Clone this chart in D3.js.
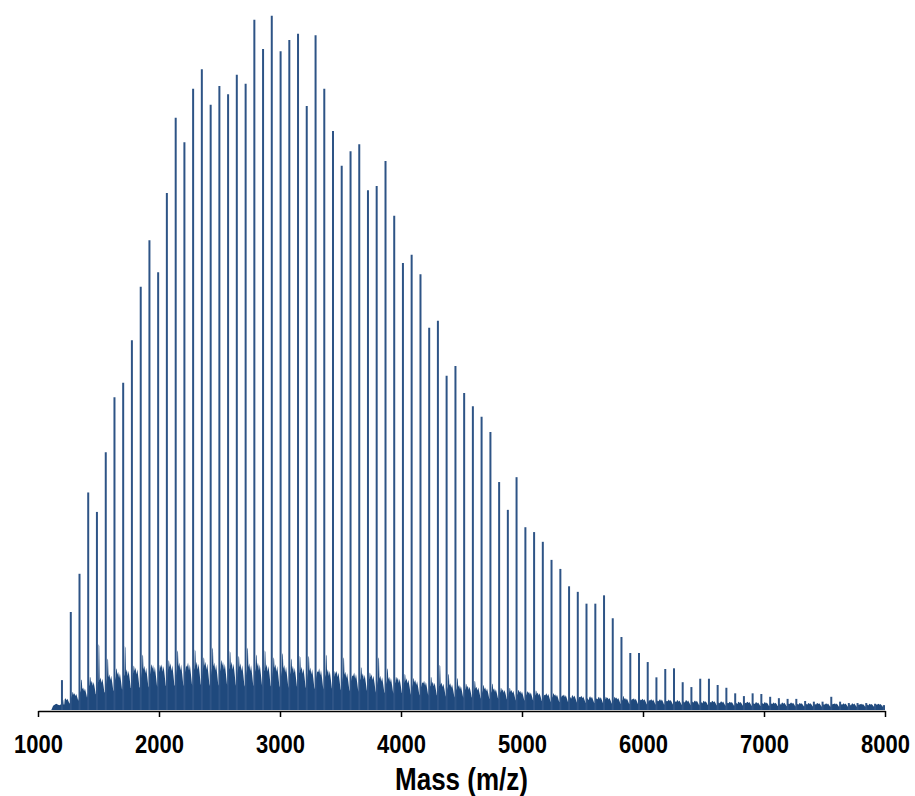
<!DOCTYPE html>
<html><head><meta charset="utf-8">
<script src="https://cdn.jsdelivr.net/npm/d3@7"></script>
<style>body{margin:0;background:#fff;} svg{display:block;}</style>
</head><body>
<svg id="chart" width="915" height="796"></svg>
<script>
// Main series peak masses (m/z)
const peakMass = [1198,1271,1343,1415,1487,1560,1632,1704,1776,1849,1921,1993,2065,2138,2210,2282,2354,2427,2499,2571,2643,2716,2788,2860,2932,3005,3077,3149,3221,3294,3366,3438,3510,3583,3655,3727,3799,3872,3944,4016,4088,4161,4233,4305,4377,4450,4522,4594,4666,4739,4811,4883,4955,5028,5100,5172,5244,5317,5389,5461,5533,5606,5678,5750,5822,5895,5967,6039,6111,6184,6256,6328,6400,6473,6545,6617,6689,6762,6834,6906,6978,7051,7123,7195,7267,7340,7412,7484,7556,7629,7701,7773,7845,7918,7990];
// Main series relative intensity (%)
const peakIntensity = [4.3,14.1,19.6,31.3,28.5,37.1,45.0,47.1,53.2,60.9,67.6,63.0,74.4,85.2,81.7,89.4,92.2,87.1,89.8,88.6,91.4,90.1,99.3,95.1,99.9,94.8,96.4,97.3,86.9,97.1,89.4,83.3,78.3,80.4,81.4,74.8,75.4,79.0,71.1,64.3,65.5,62.7,55.0,56.0,48.1,49.5,45.6,43.7,42.2,40.0,32.8,28.8,33.5,26.3,25.6,24.2,21.6,20.3,17.8,17.0,15.3,15.3,16.5,13.2,10.5,8.2,8.2,6.9,4.7,5.9,6.0,4.0,3.3,4.5,4.5,3.6,3.2,2.4,2.0,2.4,2.3,1.9,1.7,1.6,1.6,1.3,1.2,1.2,1.9,1.2,1.0,1.0,1.0,0.9,0.7];
// Adduct shoulder peak (+16) next to each main peak (%)
const shoulderIntensity = [0.8,2.6,4.4,4.8,9.5,7.4,6.0,9.2,6.4,8.0,6.6,6.5,7.2,8.6,6.4,8.7,7.6,9.0,7.2,8.5,7.8,9.0,8.0,8.6,7.6,8.2,7.4,7.8,7.8,5.6,8.0,5.6,7.6,5.0,6.2,5.4,7.6,6.0,4.8,5.2,4.6,4.0,4.8,6.5,5.2,4.6,3.8,4.2,3.6,3.8,3.2,3.2,2.9,2.7,2.8,2.2,2.4,2.1,1.7,1.9,1.5,1.6,1.9,1.9,2.0,1.6,1.5,1.4,1.3,1.3,1.2,1.1,1.1,1.0,1.1,1.0,1.0,0.9,1.0,0.9,0.9,0.9,0.8,0.9,0.8,0.8,0.8,0.8,0.9,0.8,0.7,0.8,0.7,0.8,0.7];
// Background (other series) level between main peaks (%)
const fillLevel = [1.4,2.0,2.7,3.5,3.9,4.3,4.6,4.9,5.1,5.3,5.4,5.5,5.6,5.7,5.7,5.8,5.8,5.7,5.8,5.8,5.6,5.6,5.7,5.5,5.5,5.4,5.3,5.2,5.1,5.0,4.9,4.7,4.6,4.5,4.4,4.3,4.1,4.0,3.9,3.8,3.6,3.5,3.4,3.3,3.2,3.0,2.9,2.8,2.7,2.6,2.5,2.4,2.3,2.2,2.1,2.0,1.9,1.85,1.8,1.7,1.65,1.6,1.5,1.5,1.45,1.4,1.35,1.3,1.3,1.25,1.2,1.2,1.15,1.1,1.1,1.05,1.0,1.0,1.0,0.95,0.95,0.9,0.9,0.9,0.85,0.85,0.85,0.8,0.8,0.8,0.8,0.75,0.75,0.75,0.7];
const tickValues = [1000,2000,3000,4000,5000,6000,7000,8000];
const xLabel = "Mass (m/z)";

const svg = d3.select("#chart");
const x = d3.scaleLinear().domain([1000, 8000]).range([38, 885]);
const y = d3.scaleLinear().domain([0, 100]).range([710, 15]);
const fillColor = "#1F497D";
const peakColor = "#2E5486";

// background "grass" profile built from the per-period readings
const pts = [{m:1110, v:0}, {m:1125, v:0.6}, {m:1150, v:0.9}, {m:1175, v:0.7}];
peakMass.forEach((m, k) => {
  const f = fillLevel[k];
  const s = shoulderIntensity[k];
  pts.push({m: m - 5, v: f * 0.6});
  pts.push({m: m + 5, v: f * 0.95});
  pts.push({m: m + 10, v: f * 1.05});
  pts.push({m: m + 14, v: s});
  pts.push({m: m + 19, v: s * 0.97});
  pts.push({m: m + 23, v: f * 1.1});
  pts.push({m: m + 30, v: f * 1.2});
  pts.push({m: m + 38, v: f * 1.0});
  pts.push({m: m + 45, v: f * 1.15});
  pts.push({m: m + 54, v: f * 0.9});
  pts.push({m: m + 62, v: f * 0.65});
});
const clipped = pts.filter(p => p.m <= 8000);
clipped.push({m: 8000, v: 0.7});

const area = d3.area()
  .x(d => x(d.m))
  .y0(y(0))
  .y1(d => y(d.v));
svg.append("path")
  .datum(clipped)
  .attr("d", area)
  .attr("fill", fillColor);

// main peaks
svg.append("g").selectAll("line")
  .data(peakMass.map((m, i) => ({m, v: peakIntensity[i]})))
  .join("line")
  .attr("x1", d => x(d.m)).attr("x2", d => x(d.m))
  .attr("y1", y(0)).attr("y2", d => y(d.v))
  .attr("stroke", peakColor)
  .attr("stroke-width", 2);

// x axis
const axis = d3.axisBottom(x).tickValues(tickValues).tickSize(6).tickSizeOuter(0).tickFormat(d3.format("d"));
const gx = svg.append("g").attr("transform", `translate(0,${y(0) + 1})`).call(axis);
gx.select(".domain").attr("stroke", "#000").attr("stroke-width", 1.5);
gx.selectAll(".tick line").attr("stroke", "#000").attr("stroke-width", 1.5);
gx.selectAll(".tick text")
  .attr("fill", "#000")
  .attr("font-family", "'Liberation Sans', Arial, sans-serif")
  .attr("font-weight", "bold")
  .attr("font-size", 22)
  .attr("y", 0)
  .attr("dy", 0)
  .attr("transform", "translate(0,42) scale(1,1.2)");

svg.append("text")
  .attr("text-anchor", "middle")
  .attr("font-family", "'Liberation Sans', Arial, sans-serif")
  .attr("font-weight", "bold")
  .attr("font-size", 26)
  .attr("fill", "#000")
  .attr("transform", `translate(${x(4500)},790) scale(1,1.2)`)
  .text(xLabel);
</script>
</body></html>
